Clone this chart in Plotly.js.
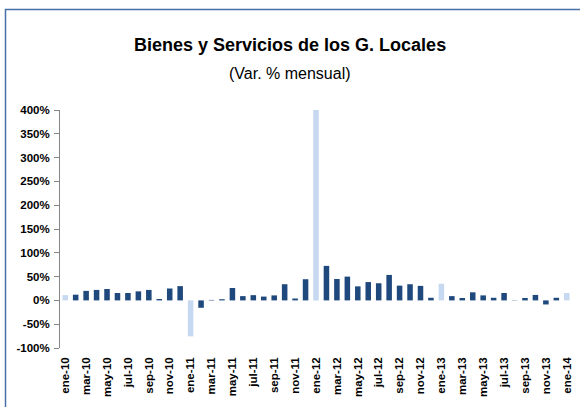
<!DOCTYPE html>
<html>
<head>
<meta charset="utf-8">
<script src="https://cdn.plot.ly/plotly-3.0.1.min.js"></script>
<style>
html,body{margin:0;padding:0;background:#fff;}
#chart{width:580px;height:407px;}
</style>
</head>
<body>
<div id="chart"></div>
<script>
// Categories (monthly)
const months = [
  'ene-10','feb-10','mar-10','abr-10','may-10','jun-10','jul-10','ago-10','sep-10','oct-10','nov-10','dic-10',
  'ene-11','feb-11','mar-11','abr-11','may-11','jun-11','jul-11','ago-11','sep-11','oct-11','nov-11','dic-11',
  'ene-12','feb-12','mar-12','abr-12','may-12','jun-12','jul-12','ago-12','sep-12','oct-12','nov-12','dic-12',
  'ene-13','feb-13','mar-13','abr-13','may-13','jun-13','jul-13','ago-13','sep-13','oct-13','nov-13','dic-13',
  'ene-14'
];
// Var. % mensual
const values = [
  11, 12, 20, 22, 24, 15.5, 15.5, 19, 22, 3, 25, 30,
  -75.5, -15.5, 1, 2.5, 26, 9, 11, 8, 10.5, 34, 4, 44.5,
  400, 72.5, 45, 50, 29.5, 38.5, 36, 53.5, 31, 34, 30.5, 5.5,
  35, 9, 5, 17, 10.5, 5.5, 15.5, -0.5, 5, 11.5, -8.5, 5.5,
  15.5
];
const yTickVals = [-100, -50, 0, 50, 100, 150, 200, 250, 300, 350, 400];
const yTickText = ['-100%', '-50%', '0%', '50%', '100%', '150%', '200%', '250%', '300%', '350%', '400%'];

const darkBlue = '#1f497d';
const lightBlue = '#c6d9f1';

const idx = months.map((m, i) => i);
const colors = months.map(m => m.startsWith('ene') ? lightBlue : darkBlue);
const labelIdx = idx.filter(i => i % 2 === 0);
const labelText = labelIdx.map(i => months[i]);
const boundaryTicks = idx.filter(i => i % 2 === 1 && i < months.length - 1).map(i => i + 0.5);

const W = 580, H = 407;
const M = {l: 60, r: 8, t: 110, b: 59, pad: 0};
const pw = W - M.l - M.r, ph = H - M.t - M.b;
const yMin = -100, yMax = 400;
const zeroFrac = (0 - yMin) / (yMax - yMin);
const xRange = [-0.5, months.length - 0.5];

const tickFont = {family: 'Liberation Sans, Arial, sans-serif', size: 11.5, color: '#000', weight: 'bold'};

const trace = {
  type: 'bar',
  x: idx,
  y: values,
  marker: {color: colors, line: {width: 0}},
  hoverinfo: 'skip',
  xaxis: 'x',
  yaxis: 'y'
};

const layout = {
  width: W, height: H,
  margin: M,
  paper_bgcolor: '#fff',
  plot_bgcolor: 'rgba(0,0,0,0)',
  showlegend: false,
  bargap: 0.47,
  font: {family: 'Liberation Sans, Arial, sans-serif'},
  xaxis: {
    range: xRange,
    tickmode: 'array',
    tickvals: labelIdx,
    ticktext: labelText,
    tickangle: -90,
    ticks: '',
    showline: false,
    showgrid: false,
    zeroline: false,
    tickfont: tickFont,
    ticklabelstandoff: 6,
    fixedrange: true
  },
  xaxis2: {
    overlaying: 'x',
    anchor: 'free',
    position: zeroFrac,
    range: xRange,
    tickmode: 'array',
    tickvals: boundaryTicks,
    ticktext: boundaryTicks.map(() => ''),
    showticklabels: false,
    ticks: 'outside',
    ticklen: 4,
    tickcolor: '#868686',
    tickwidth: 1,
    showline: true,
    linecolor: '#868686',
    linewidth: 1,
    showgrid: false,
    zeroline: false
  },
  yaxis: {
    range: [yMin, yMax],
    tickmode: 'array',
    tickvals: yTickVals,
    ticktext: yTickText,
    ticks: 'outside',
    ticklen: 5,
    tickcolor: '#868686',
    showline: true,
    linecolor: '#868686',
    linewidth: 1,
    showgrid: false,
    zeroline: false,
    tickfont: tickFont,
    ticklabelstandoff: 2,
    fixedrange: true
  },
  annotations: [
    {
      text: 'Bienes y Servicios de los G. Locales',
      xref: 'paper', yref: 'paper',
      x: (W / 2 - M.l) / pw, y: 1 + (M.t - 45) / ph,
      xanchor: 'center', yanchor: 'middle', showarrow: false,
      font: {family: 'Liberation Sans, Arial, sans-serif', size: 18, color: '#000', weight: 'bold'}
    },
    {
      text: '(Var. % mensual)',
      xref: 'paper', yref: 'paper',
      x: (W / 2 - M.l) / pw, y: 1 + (M.t - 73) / ph,
      xanchor: 'center', yanchor: 'middle', showarrow: false,
      font: {family: 'Liberation Sans, Arial, sans-serif', size: 16, color: '#000'}
    }
  ],
  shapes: [
    {
      type: 'rect', xref: 'paper', yref: 'paper',
      x0: (5.5 - M.l) / pw, x1: (W + 20 - M.l) / pw,
      y0: -(H + 20 - M.t - ph) / ph, y1: 1 + (M.t - 9.5) / ph,
      line: {color: '#4a6ea8', width: 1.5},
      fillcolor: 'rgba(0,0,0,0)',
      layer: 'below'
    }
  ]
};

Plotly.newPlot('chart', [trace], layout, {staticPlot: true, displayModeBar: false});
</script>
</body>
</html>
